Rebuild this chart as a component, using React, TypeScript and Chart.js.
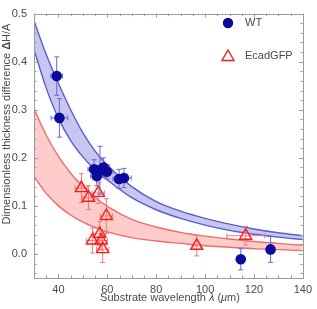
import React, { useEffect, useRef } from 'react';
import { Chart, registerables } from 'chart.js';
Chart.register(...registerables);

// ---- data ----
const bandX = [30, 35, 40, 45, 50, 55, 60, 70, 80, 90, 100, 110, 120, 130, 140];
const wtBandUpper = [0.485, 0.415, 0.355, 0.3, 0.252, 0.214, 0.185, 0.14, 0.109, 0.089, 0.074, 0.062, 0.052, 0.044, 0.038];
const wtBandLower = [0.425, 0.345, 0.282, 0.236, 0.202, 0.175, 0.154, 0.117, 0.092, 0.074, 0.06, 0.049, 0.041, 0.035, 0.03];
const ecBandUpper = [0.302, 0.247, 0.203, 0.168, 0.141, 0.118, 0.099, 0.072, 0.056, 0.045, 0.037, 0.031, 0.026, 0.022, 0.018];
const ecBandLower = [0.161, 0.126, 0.1, 0.081, 0.066, 0.055, 0.046, 0.034, 0.027, 0.022, 0.017, 0.014, 0.011, 0.009, 0.007];

const wtX = [39.3, 40.4, 54.6, 55.7, 57.0, 58.4, 59.8, 64.8, 66.8, 114.6, 126.8];
const wtY = [0.37, 0.283, 0.176, 0.162, 0.174, 0.18, 0.171, 0.156, 0.158, -0.011, 0.0095];
const wtXErr = [2.4, 3.4, 2.5, 2.5, 2.5, 2.5, 2.5, 2.5, 3.0, 1.5, 1.5];
const wtYErr = [0.04, 0.04, 0.02, 0.02, 0.05, 0.02, 0.015, 0.02, 0.02, 0.022, 0.027];

const ecX = [49.4, 52.3, 56.3, 59.6, 53.9, 56.9, 57.5, 58.1, 96.6, 116.6];
const ecY = [0.137, 0.117, 0.127, 0.079, 0.028, 0.042, 0.028, 0.01, 0.017, 0.038];
const ecXErr = [2.6, 2.5, 2.5, 2.5, 2.5, 2.5, 2.5, 2.5, 1.5, 7.7];
const ecYErr = [0.03, 0.025, 0.022, 0.036, 0.026, 0.025, 0.02, 0.028, 0.021, 0.019];

const xTickValues = [40, 60, 80, 100, 120, 140];
const yTickValues = [0, 0.1, 0.2, 0.3, 0.4, 0.5];

const seriesNames = ['WT', 'EcadGFP'];

const WT_COLOR = '#0a0a9c';
const WT_ERR = '#6a6ad4';
const EC_COLOR = '#ff1a1a';
const EC_ERR = '#f27a7a';
const TEXT = '#4a4a4a';
const FONT = '"Liberation Sans", Arial, sans-serif';

const toPts = (xs: number[], ys: number[]) => xs.map((x, i) => ({ x, y: ys[i] }));

const errPlugin = {
  id: 'errbars',
  beforeDatasetDraw(chart: any, args: any) {
    const ds = chart.data.datasets[args.index];
    let xs: number[], ys: number[], xe: number[], ye: number[], col: string;
    if (ds.label === seriesNames[0]) { xs = wtX; ys = wtY; xe = wtXErr; ye = wtYErr; col = WT_ERR; }
    else if (ds.label === seriesNames[1]) { xs = ecX; ys = ecY; xe = ecXErr; ye = ecYErr; col = EC_ERR; }
    else return;
    const { ctx } = chart;
    const sx = chart.scales.x, sy = chart.scales.y;
    const cap = 2.5;
    ctx.save();
    ctx.strokeStyle = col;
    ctx.lineWidth = 1;
    for (let i = 0; i < xs.length; i++) {
      const px = sx.getPixelForValue(xs[i]);
      const py = sy.getPixelForValue(ys[i]);
      const y1 = sy.getPixelForValue(ys[i] + ye[i]);
      const y2 = sy.getPixelForValue(ys[i] - ye[i]);
      const x1 = sx.getPixelForValue(xs[i] - xe[i]);
      const x2 = sx.getPixelForValue(xs[i] + xe[i]);
      ctx.beginPath();
      ctx.moveTo(px, y1); ctx.lineTo(px, y2);
      ctx.moveTo(px - cap, y1); ctx.lineTo(px + cap, y1);
      ctx.moveTo(px - cap, y2); ctx.lineTo(px + cap, y2);
      ctx.moveTo(x1, py); ctx.lineTo(x2, py);
      ctx.moveTo(x1, py - cap); ctx.lineTo(x1, py + cap);
      ctx.moveTo(x2, py - cap); ctx.lineTo(x2, py + cap);
      ctx.stroke();
    }
    ctx.restore();
  },
  afterDraw(chart: any) {
    const { ctx, chartArea: a } = chart;
    const sx = chart.scales.x, sy = chart.scales.y;
    ctx.save();
    // frame
    ctx.strokeStyle = '#9c9c9c';
    ctx.lineWidth = 1;
    ctx.strokeRect(Math.round(a.left) + 0.5, Math.round(a.top) + 0.5, Math.round(a.right - a.left), Math.round(a.bottom - a.top));
    // ticks
    ctx.beginPath();
    for (let k = 0; k <= 22; k++) {
      const v = 30 + k * 5;
      const px = Math.round(sx.getPixelForValue(v)) + 0.5;
      const len = v % 20 === 0 ? 4 : 2.5;
      ctx.moveTo(px, a.bottom); ctx.lineTo(px, a.bottom - len);
      ctx.moveTo(px, a.top); ctx.lineTo(px, a.top + len);
    }
    for (let k = -2; k <= 25; k++) {
      const v = k * 0.02;
      const py = Math.round(sy.getPixelForValue(v)) + 0.5;
      const len = k % 5 === 0 ? 4 : 2.5;
      ctx.moveTo(a.left, py); ctx.lineTo(a.left + len, py);
      ctx.moveTo(a.right, py); ctx.lineTo(a.right - len, py);
    }
    ctx.stroke();

    // axis titles with mixed styles
    const drawSegs = (segs: [string, string][], cx: number, cy: number) => {
      let total = 0;
      const ws = segs.map(([t, f]) => { ctx.font = f; const w = ctx.measureText(t).width; total += w; return w; });
      let x = cx - total / 2;
      segs.forEach(([t, f], i) => { ctx.font = f; ctx.fillText(t, x, cy); x += ws[i]; });
    };
    ctx.fillStyle = TEXT;
    ctx.textBaseline = 'middle';
    ctx.textAlign = 'left';
    const nf = `11px ${FONT}`;
    const itf = `italic 11px ${FONT}`;
    const bf = `bold 11px ${FONT}`;
    drawSegs([['Substrate wavelength ', nf], ['λ', itf], [' (', nf], ['μ', itf], ['m)', nf]], 170, 298);
    ctx.save();
    ctx.translate(7, 124);
    ctx.rotate(-Math.PI / 2);
    drawSegs([['Dimensionless thickness difference ', nf], ['Δ', bf], ['H/A', nf]], 0, 0);
    ctx.restore();

    // legend
    ctx.fillStyle = WT_COLOR;
    ctx.beginPath();
    ctx.arc(228, 23, 5.2, 0, Math.PI * 2);
    ctx.fill();
    ctx.strokeStyle = EC_COLOR;
    ctx.lineWidth = 1.4;
    const r = 7;
    ctx.beginPath();
    ctx.moveTo(228, 57 - r);
    ctx.lineTo(228 + r * Math.sin(2 * Math.PI / 3), 57 - r * Math.cos(2 * Math.PI / 3));
    ctx.lineTo(228 + r * Math.sin(4 * Math.PI / 3), 57 - r * Math.cos(4 * Math.PI / 3));
    ctx.closePath();
    ctx.stroke();
    ctx.fillStyle = TEXT;
    ctx.font = nf;
    ctx.fillText(seriesNames[0], 245, 23);
    ctx.fillText(seriesNames[1], 245, 56);
    ctx.restore();
  },
};

export default function App() {
  const ref = useRef<HTMLCanvasElement>(null);
  useEffect(() => {
    if (!ref.current) return;
    const bandStyle = (border: string) => ({
      showLine: true,
      pointRadius: 0,
      borderWidth: 1.4,
      borderColor: border,
      cubicInterpolationMode: 'monotone' as const,
    });
    const chart = new Chart(ref.current, {
      type: 'scatter',
      data: {
        datasets: [
          { label: 'wtU', data: toPts(bandX, wtBandUpper), ...bandStyle('#5c5cd0'), fill: '+1', backgroundColor: 'rgba(160,160,230,0.6)', order: 10 },
          { label: 'wtL', data: toPts(bandX, wtBandLower), ...bandStyle('#5c5cd0'), fill: false, order: 9 },
          { label: 'ecU', data: toPts(bandX, ecBandUpper), ...bandStyle('#f26a6a'), fill: '+1', backgroundColor: 'rgba(255,170,170,0.6)', order: 8 },
          { label: 'ecL', data: toPts(bandX, ecBandLower), ...bandStyle('#f26a6a'), fill: false, order: 7 },
          {
            label: seriesNames[1], data: toPts(ecX, ecY), pointStyle: 'triangle', pointRadius: 7,
            borderColor: EC_COLOR, backgroundColor: 'rgba(0,0,0,0)', borderWidth: 1.4, order: 2,
          },
          {
            label: seriesNames[0], data: toPts(wtX, wtY), pointStyle: 'circle', pointRadius: 5.3,
            borderColor: WT_COLOR, backgroundColor: WT_COLOR, borderWidth: 0, order: 1,
          },
        ] as any,
      },
      options: {
        responsive: false,
        animation: false,
        devicePixelRatio: 1,
        layout: { padding: { top: 5, right: 12, left: 0, bottom: 0 } },
        plugins: { legend: { display: false }, tooltip: { enabled: false } },
        scales: {
          x: {
            type: 'linear', min: 30, max: 140,
            grid: { display: false, drawTicks: false }, border: { display: false },
            afterBuildTicks: (s: any) => { s.ticks = xTickValues.map((v) => ({ value: v })); },
            afterFit: (s: any) => { s.height = 31; },
            ticks: { padding: 5, color: TEXT, font: { family: FONT, size: 11 }, callback: (v: any) => String(v) },
          },
          y: {
            type: 'linear', min: -0.05, max: 0.5,
            grid: { display: false, drawTicks: false }, border: { display: false },
            afterBuildTicks: (s: any) => { s.ticks = yTickValues.map((v) => ({ value: v })); },
            afterFit: (s: any) => { s.width = 34; },
            ticks: { padding: 7, color: TEXT, font: { family: FONT, size: 11 }, callback: (v: any) => Number(v).toFixed(1) },
          },
        },
      },
      plugins: [errPlugin],
    });
    return () => chart.destroy();
  }, []);
  return (
    <div style={{ position: 'fixed', left: 0, top: 0, width: 317, height: 309, background: '#fff' }}>
      <canvas ref={ref} width={317} height={309} />
    </div>
  );
}
